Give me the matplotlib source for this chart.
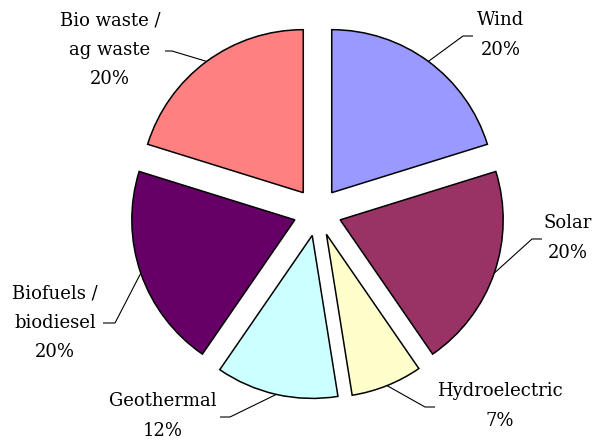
import matplotlib
matplotlib.use("Agg")
import matplotlib.pyplot as plt
import numpy as np

# ---- data ----
categories = ["Wind", "Solar", "Hydroelectric", "Geothermal",
              "Biofuels /\nbiodiesel", "Bio waste /\nag waste"]
values = [20, 20, 7, 12, 20, 20]
pct_labels = ["20%", "20%", "7%", "12%", "20%", "20%"]
colors = ["#9999FF", "#993366", "#FFFFCC", "#CCFFFF", "#660066", "#FF8080"]

# ---- layout (pixels in a 593x442 canvas) ----
W, H = 593, 442
CX, CY, R = 317.5, 212.0, 163.0
# elbow point, end point of leader, text centre (pixels)
label_layout = [
    ((463, 36), (473, 36), (501, 35)),
    ((532, 239), (542, 239), (568, 238)),
    ((425, 407), (435, 407), (500, 406)),
    ((230, 417), (220, 417), (163, 416)),
    ((115, 323), (103, 323), (55, 323)),
    ((172, 51), (165, 51), (110, 50)),
]

def p2d(px, py):
    return ((px - CX) / R, (CY - py) / R)

fig = plt.figure(figsize=(W / 100, H / 100), dpi=100)
ax = fig.add_axes([0, 0, 1, 1])
explode = [24 / R] * len(values)
wedges, _ = ax.pie(values, colors=colors, startangle=90, counterclock=False,
                   explode=explode, radius=1.0,
                   wedgeprops=dict(edgecolor="black", linewidth=1.1))
ax.set_xlim(-CX / R, (W - CX) / R)
ax.set_ylim(-(H - CY) / R, CY / R)
ax.set_aspect("auto")
ax.axis("off")

font = dict(family=["DejaVu Serif"], size=13)
for w, cat, pct, (elb, end, txt) in zip(wedges, categories, pct_labels, label_layout):
    th = np.deg2rad((w.theta1 + w.theta2) / 2)
    cx, cy = w.center
    r = w.r
    sx, sy = cx + r * np.cos(th), cy + r * np.sin(th)
    ex, ey = p2d(*elb)
    nx, ny = p2d(*end)
    ax.plot([sx, ex, nx], [sy, ey, ny], color="black", lw=0.8, solid_capstyle="butt")
    tx, ty = p2d(*txt)
    ax.text(tx, ty, cat + "\n" + pct, ha="center", va="center",
            multialignment="center", linespacing=1.8, color="black", **font)

fig.savefig("out.png", dpi=100)
